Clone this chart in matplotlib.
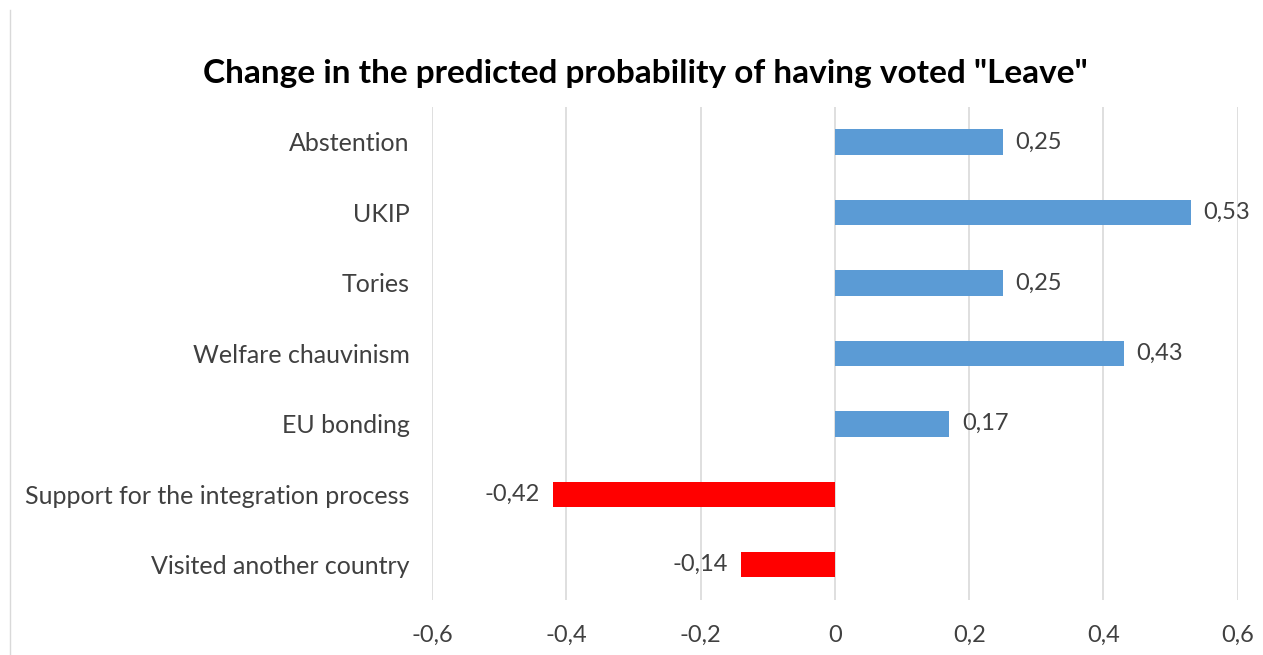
import numpy as np
import matplotlib.pyplot as plt
from matplotlib.lines import Line2D

categories = ["Abstention", "UKIP", "Tories", "Welfare chauvinism", "EU bonding",
              "Support for the integration process", "Visited another country"]
values = [0.25, 0.53, 0.25, 0.43, 0.17, -0.42, -0.14]
xticks = [-0.6, -0.4, -0.2, 0, 0.2, 0.4, 0.6]
title = 'Change in the predicted probability of having voted "Leave"'

plt.rcParams['font.family'] = ['Lato', 'DejaVu Sans']

def fmt(v):
    s = ("%.2f" % v).rstrip("0").rstrip(".") if v != 0 else "0"
    return s.replace(".", ",")

fig = plt.figure(figsize=(12.63, 6.55), dpi=100)
ax = fig.add_axes([0.342, 0.084, 0.638, 0.753])

y = np.arange(len(categories))
colors = ["#5B9BD5" if v > 0 else "#FF0000" for v in values]
ax.barh(y, values, height=0.36, color=colors, zorder=3)

for yi, v in zip(y, values):
    if v > 0:
        ax.text(v + 0.019, yi, fmt(v), va="center", ha="left", fontsize=17, color="#404040")
    else:
        ax.text(v - 0.019, yi, fmt(v), va="center", ha="right", fontsize=17, color="#404040")

ax.set_ylim(len(categories) - 0.5, -0.5)
ax.set_yticks(y)
ax.set_yticklabels(categories, fontsize=18, color="#404040")
ax.set_xlim(-0.6, 0.6)
ax.set_xticks(xticks)
ax.set_xticklabels([fmt(t) for t in xticks], fontsize=17, color="#404040")
ax.tick_params(axis="both", length=0)
ax.tick_params(axis="y", pad=16)
ax.tick_params(axis="x", pad=18)
ax.grid(axis="x", color="#D9D9D9", linewidth=1.2, zorder=0)
for s in ax.spines.values():
    s.set_visible(False)

fig.text(0.511, 0.888, title, ha="center", va="center", fontsize=24, fontweight="bold", color="black")

fig.lines.append(Line2D([0.008, 0.008], [0.0, 0.985], transform=fig.transFigure,
                        color="#D9D9D9", linewidth=1))

fig.savefig("out.png", dpi=100)
